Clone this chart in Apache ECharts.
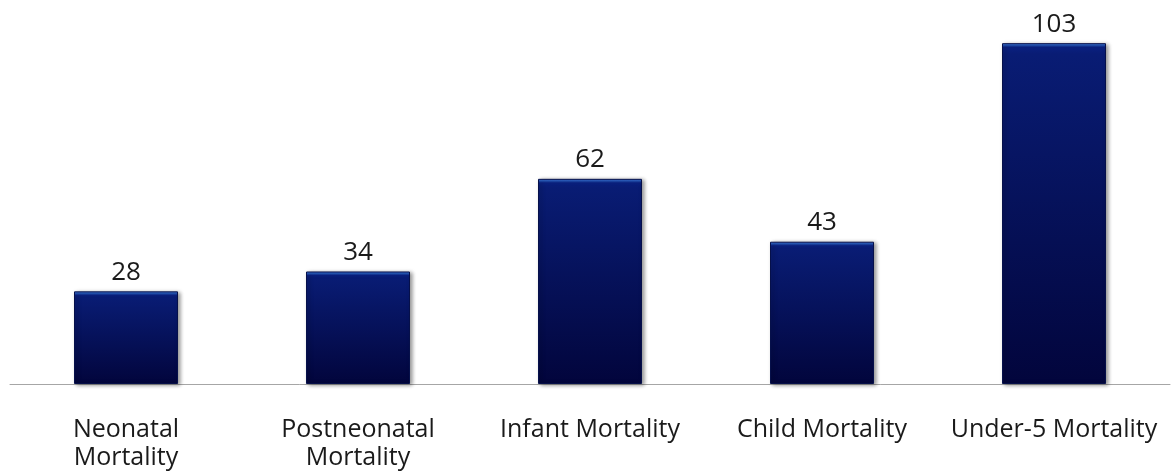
<!DOCTYPE html>
<html><head><meta charset="utf-8">
<script src="https://cdn.jsdelivr.net/npm/echarts@6/dist/echarts.min.js"></script>
<style>html,body{margin:0;padding:0;background:#fff}#c{width:1172px;height:473px}</style>
</head><body><div id="c"></div>
<script>
const categories = ['Neonatal\nMortality', 'Postneonatal\nMortality', 'Infant Mortality', 'Child Mortality', 'Under-5 Mortality'];
const values = [28, 34, 62, 43, 103];

const GRID_TOP = 20, GRID_BOTTOM = 89, Y_MAX = 110;
const pxPerUnit = (473 - GRID_TOP - GRID_BOTTOM) / Y_MAX;

function barStyle(v) {
  const h = v * pxPerUnit;
  const b = 4 / h;
  return {
    color: new echarts.graphic.LinearGradient(0, 0, 0, 1, [
      { offset: 0, color: '#4a7ee0' },
      { offset: b * 0.5, color: '#2456b8' },
      { offset: b, color: '#0a2080' },
      { offset: Math.min(0.99, b + 0.02), color: '#091c74' },
      { offset: 1, color: '#02053c' }
    ]),
    borderColor: '#06104a', borderWidth: 1,
    shadowColor: 'rgba(0,0,0,0.4)', shadowBlur: 4, shadowOffsetX: 2, shadowOffsetY: 1
  };
}

const chart = echarts.init(document.getElementById('c'));
chart.setOption({
  animation: false,
  grid: { left: 10, right: 2, top: GRID_TOP, bottom: GRID_BOTTOM },
  xAxis: {
    type: 'category', data: categories,
    axisLine: { lineStyle: { color: '#a6a6a6', width: 1 } },
    axisTick: { show: false },
    axisLabel: { color: '#1a1a1a', fontFamily: 'Open Sans', fontSize: 25, lineHeight: 28, margin: 32, interval: 0 }
  },
  yAxis: { type: 'value', min: 0, max: Y_MAX, show: false, splitLine: { show: false } },
  series: [{
    type: 'bar', barWidth: 104,
    data: values.map(v => ({ value: v, itemStyle: barStyle(v) })),
    label: { show: true, position: 'top', distance: 6, color: '#1a1a1a', fontFamily: 'Open Sans', fontSize: 26 }
  }]
});
</script></body></html>
